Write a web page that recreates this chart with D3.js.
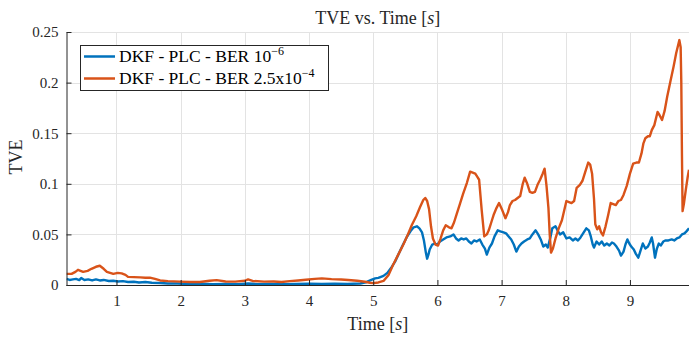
<!DOCTYPE html>
<html>
<head>
<meta charset="utf-8">
<script src="https://cdn.jsdelivr.net/npm/d3@7"></script>
<style>
  html, body { margin: 0; padding: 0; background: #fff; }
  svg { display: block; font-family: "Liberation Serif", "DejaVu Serif", serif; }
</style>
</head>
<body>
<svg id="chart" width="689" height="337"></svg>
<script>
// ── Data ──
const xTicks = [1, 2, 3, 4, 5, 6, 7, 8, 9];
const yTicks = [0, 0.05, 0.1, 0.15, 0.2, 0.25];
const yTickLabels = ["0", "0.05", "0.1", "0.15", "0.2", "0.25"];

const timeLow = [0.22, 0.27, 0.32, 0.37, 0.42, 0.45, 0.50, 0.56, 0.62, 0.68, 0.74, 0.80, 0.88, 0.95,
  1.02, 1.10, 1.18, 1.27, 1.35, 1.45, 1.55, 1.68, 1.80, 1.95, 2.10, 2.30, 2.50, 2.70, 2.90, 3.05,
  3.20, 3.40, 3.60, 3.80, 4.00, 4.20, 4.40, 4.60, 4.80, 4.90, 4.97, 5.03, 5.08, 5.16, 5.22, 5.28,
  5.34, 5.39, 5.45, 5.52, 5.58, 5.63, 5.68, 5.72, 5.76, 5.79, 5.82, 5.84, 5.86, 5.88, 5.92, 5.96,
  6.00, 6.04, 6.09, 6.14, 6.20, 6.25, 6.29, 6.33, 6.37, 6.41, 6.45, 6.49, 6.53, 6.57, 6.61, 6.66,
  6.70, 6.74, 6.77, 6.81, 6.85, 6.89, 6.94, 6.98, 7.03, 7.07, 7.11, 7.15, 7.19, 7.23, 7.27, 7.31,
  7.35, 7.40, 7.44, 7.48, 7.53, 7.57, 7.61, 7.65, 7.69, 7.72, 7.76, 7.79, 7.84, 7.88, 7.91, 7.96,
  8.01, 8.06, 8.11, 8.15, 8.19, 8.23, 8.28, 8.32, 8.36, 8.39, 8.42, 8.44, 8.48, 8.52, 8.56, 8.60,
  8.64, 8.68, 8.72, 8.75, 8.79, 8.83, 8.86, 8.90, 8.93, 8.96, 8.99, 9.02, 9.06, 9.09, 9.13, 9.16,
  9.20, 9.24, 9.28, 9.31, 9.34, 9.36, 9.39, 9.42, 9.45, 9.48, 9.52, 9.55, 9.60, 9.65, 9.69, 9.73,
  9.77, 9.81, 9.85, 9.88, 9.92];
const tveLow = [0.006, 0.005, 0.0055, 0.006, 0.0048, 0.007, 0.005, 0.0055, 0.0045, 0.0055, 0.0045, 0.005, 0.004, 0.0042,
  0.0035, 0.0038, 0.003, 0.0032, 0.0025, 0.003, 0.0022, 0.002, 0.0015, 0.0015, 0.001, 0.0012, 0.0008, 0.001, 0.0008, 0.0015,
  0.0008, 0.001, 0.0008, 0.001, 0.0012, 0.001, 0.0012, 0.001, 0.0015, 0.003, 0.005, 0.0065, 0.007, 0.009, 0.012, 0.017,
  0.023, 0.030, 0.038, 0.047, 0.053, 0.057, 0.058, 0.056, 0.052, 0.044, 0.032, 0.026, 0.030, 0.035, 0.040, 0.041,
  0.040, 0.043, 0.045, 0.047, 0.048, 0.050, 0.046, 0.044, 0.046, 0.045, 0.046, 0.043, 0.041, 0.044, 0.043, 0.045,
  0.040, 0.036, 0.030, 0.037, 0.041, 0.048, 0.054, 0.053, 0.052, 0.051, 0.048, 0.045, 0.040, 0.033, 0.038, 0.041,
  0.043, 0.045, 0.046, 0.050, 0.054, 0.050, 0.045, 0.038, 0.040, 0.037, 0.047, 0.056, 0.058, 0.053, 0.050, 0.052,
  0.046, 0.047, 0.044, 0.046, 0.044, 0.047, 0.052, 0.056, 0.054, 0.048, 0.040, 0.037, 0.043, 0.040, 0.043, 0.039,
  0.041, 0.039, 0.042, 0.041, 0.038, 0.034, 0.029, 0.033, 0.040, 0.045, 0.041, 0.038, 0.035, 0.031, 0.027, 0.033,
  0.041, 0.036, 0.038, 0.042, 0.047, 0.041, 0.027, 0.036, 0.041, 0.039, 0.043, 0.044, 0.044, 0.045, 0.044, 0.046,
  0.047, 0.050, 0.051, 0.053, 0.056];

const timeHigh = [0.22, 0.30, 0.36, 0.40, 0.48, 0.55, 0.61, 0.68, 0.74, 0.80, 0.85, 0.95, 1.02, 1.08, 1.14,
  1.18, 1.27, 1.37, 1.45, 1.52, 1.60, 1.68, 1.80, 1.99, 2.15, 2.30, 2.45, 2.56, 2.70, 2.85, 3.00,
  3.05, 3.12, 3.30, 3.45, 3.57, 3.70, 3.83, 3.95, 4.09, 4.20, 4.35, 4.50, 4.61, 4.75, 4.87, 4.95,
  5.00, 5.08, 5.16, 5.24, 5.31, 5.39, 5.47, 5.54, 5.60, 5.67, 5.73, 5.78, 5.81, 5.84, 5.87, 5.90,
  5.93, 5.97, 6.01, 6.05, 6.09, 6.13, 6.18, 6.22, 6.26, 6.30, 6.35, 6.40, 6.46, 6.51, 6.55, 6.59,
  6.62, 6.65, 6.69, 6.73, 6.77, 6.80, 6.84, 6.88, 6.92, 6.96, 7.01, 7.06, 7.10, 7.13, 7.17, 7.21,
  7.25, 7.29, 7.33, 7.36, 7.40, 7.44, 7.48, 7.52, 7.56, 7.60, 7.64, 7.67, 7.70, 7.73, 7.75, 7.77,
  7.80, 7.84, 7.89, 7.94, 8.01, 8.05, 8.09, 8.13, 8.17, 8.22, 8.26, 8.30, 8.35, 8.38, 8.41, 8.44,
  8.46, 8.49, 8.52, 8.55, 8.58, 8.62, 8.66, 8.70, 8.74, 8.78, 8.82, 8.86, 8.90, 8.95, 9.00, 9.05,
  9.10, 9.14, 9.18, 9.21, 9.24, 9.28, 9.31, 9.34, 9.38, 9.43, 9.46, 9.50, 9.54, 9.58, 9.63, 9.68,
  9.72, 9.77, 9.79, 9.80, 9.81, 9.82, 9.84, 9.87, 9.90, 9.92];
const tveHigh = [0.011, 0.011, 0.013, 0.015, 0.013, 0.014, 0.016, 0.018, 0.019, 0.016, 0.013, 0.011, 0.012, 0.0115, 0.010,
  0.008, 0.0078, 0.0075, 0.0072, 0.0073, 0.006, 0.0045, 0.0038, 0.0033, 0.003, 0.003, 0.0042, 0.0048, 0.0035, 0.0033, 0.0042,
  0.0055, 0.004, 0.0033, 0.0035, 0.003, 0.0038, 0.0045, 0.0052, 0.006, 0.0065, 0.0058, 0.0055, 0.005, 0.0042, 0.0032, 0.0022,
  0.0018, 0.0025, 0.004, 0.010, 0.020, 0.030, 0.040, 0.050, 0.059, 0.068, 0.077, 0.084, 0.086, 0.083, 0.075, 0.058,
  0.046, 0.040, 0.039, 0.046, 0.054, 0.059, 0.057, 0.056, 0.062, 0.070, 0.080, 0.090, 0.101, 0.112, 0.111, 0.110,
  0.107, 0.104, 0.074, 0.048, 0.050, 0.054, 0.062, 0.070, 0.076, 0.081, 0.074, 0.066, 0.072, 0.079, 0.083, 0.084,
  0.086, 0.088, 0.100, 0.106, 0.100, 0.092, 0.091, 0.092, 0.099, 0.104, 0.110, 0.115, 0.098, 0.076, 0.050, 0.032,
  0.036, 0.046, 0.056, 0.064, 0.083, 0.082, 0.081, 0.083, 0.096, 0.099, 0.103, 0.111, 0.121, 0.119, 0.110, 0.085,
  0.060, 0.055, 0.058, 0.052, 0.049, 0.058, 0.069, 0.081, 0.080, 0.079, 0.083, 0.084, 0.089, 0.098, 0.110, 0.120,
  0.121, 0.121, 0.130, 0.140, 0.145, 0.147, 0.147, 0.153, 0.158, 0.171, 0.168, 0.163, 0.172, 0.186, 0.201, 0.216,
  0.229, 0.242, 0.235, 0.200, 0.130, 0.073, 0.080, 0.094, 0.107, 0.114];

const seriesNames = ["DKF - PLC - BER ", "DKF - PLC - BER 2.5x"];
const seriesExp = ["\u22126", "\u22124"];
const seriesColors = ["#0072BD", "#D95319"];

// ── Layout ──
const svg = d3.select("#chart");
const mLeft = 66.5, mRight = 689, mTop = 32, mBottom = 285;

const x = d3.scaleLinear().domain([0.221, 9.92]).range([mLeft, mRight]);
const y = d3.scaleLinear().domain([0, 0.25]).range([mBottom, mTop]);

// ── Grid ──
const grid = svg.append("g").attr("class", "grid");
grid.selectAll("line.gx")
  .data(xTicks)
  .join("line")
  .attr("class", "gx")
  .attr("x1", d => Math.round(x(d)) + 0.5)
  .attr("x2", d => Math.round(x(d)) + 0.5)
  .attr("y1", mTop)
  .attr("y2", mBottom)
  .attr("stroke", "#e3e3e3")
  .attr("stroke-width", 1);
grid.selectAll("line.gy")
  .data(yTicks.slice(1))
  .join("line")
  .attr("class", "gy")
  .attr("y1", d => Math.round(y(d)) + 0.5)
  .attr("y2", d => Math.round(y(d)) + 0.5)
  .attr("x1", mLeft)
  .attr("x2", mRight)
  .attr("stroke", "#e3e3e3")
  .attr("stroke-width", 1);

// ── Series ──
svg.append("clipPath").attr("id", "clip")
  .append("rect")
  .attr("x", mLeft).attr("y", mTop - 5)
  .attr("width", mRight - mLeft).attr("height", mBottom - mTop + 5);

const line = d3.line()
  .x(d => x(d[0]))
  .y(d => y(d[1]));

const series = [
  d3.zip(timeLow, tveLow),
  d3.zip(timeHigh, tveHigh)
];

svg.append("g")
  .attr("clip-path", "url(#clip)")
  .selectAll("path")
  .data(series)
  .join("path")
  .attr("d", line)
  .attr("fill", "none")
  .attr("stroke", (d, i) => seriesColors[i])
  .attr("stroke-width", 2.4)
  .attr("stroke-linejoin", "round");

// ── Axes ──
const xAxis = svg.append("g")
  .attr("transform", `translate(0,${mBottom})`)
  .call(d3.axisBottom(x).tickValues(xTicks).tickSizeInner(-5).tickSizeOuter(0).tickPadding(16))
  .call(g => g.select(".domain").attr("stroke", "#262626").attr("d", `M${mLeft},0.5H${mRight}`));

const yAxis = svg.append("g")
  .attr("transform", `translate(${mLeft},0)`)
  .call(d3.axisLeft(y).tickValues(yTicks).tickFormat((d, i) => yTickLabels[i])
    .tickSizeInner(-5).tickSizeOuter(0).tickPadding(8))
  .call(g => g.select(".domain").attr("stroke", "#262626"));

[xAxis, yAxis].forEach(g => {
  g.selectAll(".tick line").attr("stroke", "#262626");
  g.selectAll(".tick text")
    .attr("fill", "#262626")
    .style("font-family", "'Liberation Serif', serif")
    .style("font-size", "15px");
});
xAxis.selectAll(".tick text").attr("dy", "0.35em");

// ── Titles ──
svg.append("text")
  .attr("x", (mLeft + mRight) / 2)
  .attr("y", 24)
  .attr("text-anchor", "middle")
  .attr("fill", "#262626")
  .style("font-size", "18px")
  .call(t => {
    t.append("tspan").text("TVE vs. Time [");
    t.append("tspan").attr("font-style", "italic").text("s");
    t.append("tspan").text("]");
  });

svg.append("text")
  .attr("x", (mLeft + mRight) / 2)
  .attr("y", 330)
  .attr("text-anchor", "middle")
  .attr("fill", "#262626")
  .style("font-size", "18px")
  .call(t => {
    t.append("tspan").text("Time [");
    t.append("tspan").attr("font-style", "italic").text("s");
    t.append("tspan").text("]");
  });

svg.append("text")
  .attr("transform", "translate(22,157) rotate(-90)")
  .attr("text-anchor", "middle")
  .attr("fill", "#262626")
  .style("font-size", "18px")
  .text("TVE");

// ── Legend ──
const legend = svg.append("g").attr("class", "legend");
legend.append("rect")
  .attr("x", 80.5).attr("y", 45.5)
  .attr("width", 248).attr("height", 45)
  .attr("fill", "#fff")
  .attr("stroke", "#262626")
  .attr("stroke-width", 1);

const rows = legend.selectAll("g.row")
  .data(seriesNames)
  .join("g")
  .attr("class", "row")
  .attr("transform", (d, i) => `translate(0,${56.5 + i * 22})`);

rows.append("line")
  .attr("x1", 84).attr("x2", 115)
  .attr("stroke", (d, i) => seriesColors[i])
  .attr("stroke-width", 2.5);

rows.append("text")
  .attr("x", 119)
  .attr("y", 5.5)
  .attr("fill", "#000")
  .style("font-size", "17.5px")
  .call(t => {
    t.append("tspan").text(d => d + "10");
    t.append("tspan")
      .attr("dy", -7)
      .style("font-size", "12px")
      .text((d, i) => seriesExp[i]);
  });
</script>
</body>
</html>
